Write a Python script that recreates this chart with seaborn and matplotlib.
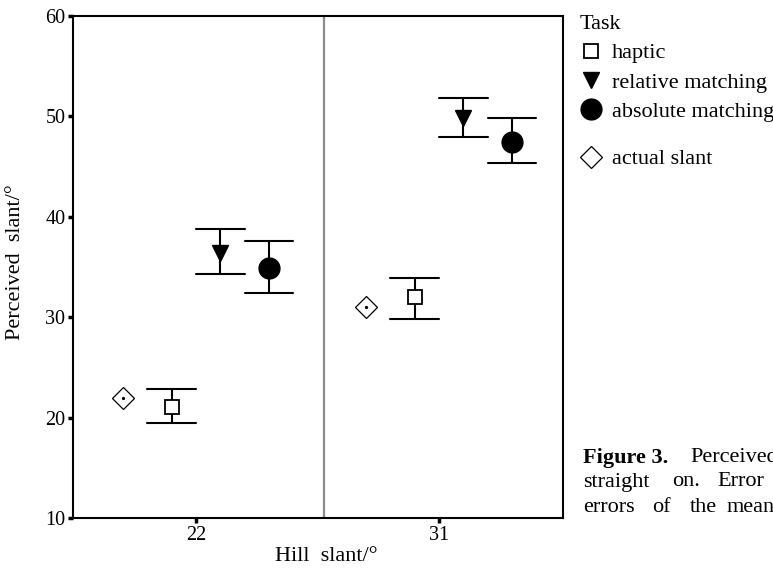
import matplotlib
matplotlib.use("Agg")
import matplotlib.pyplot as plt
import numpy as np
import pandas as pd
import seaborn as sns

# values (degrees)
hill_slants = ["22", "31"]
tasks = ["actual slant", "haptic", "relative matching", "absolute matching"]
means = {
    "actual slant": [22.0, 31.0],
    "haptic": [21.1, 32.0],
    "relative matching": [36.4, 49.8],
    "absolute matching": [34.9, 47.5],
}
err_low = {
    "haptic": [19.5, 29.8],
    "relative matching": [34.3, 47.9],
    "absolute matching": [32.4, 45.4],
}
err_high = {
    "haptic": [22.8, 33.9],
    "relative matching": [38.8, 51.8],
    "absolute matching": [37.6, 49.8],
}

# long table: lower bound, mean, upper bound per cell -> median + full range
rows = []
for task in tasks:
    for i, slant in enumerate(hill_slants):
        vals = [means[task][i]]
        if task in err_low:
            vals = [err_low[task][i], means[task][i], err_high[task][i]]
        for v in vals:
            rows.append({"slant": slant, "task": task, "value": v})
df = pd.DataFrame(rows)

sns.set_theme(style="ticks")
plt.rcParams["font.family"] = ["Liberation Serif", "DejaVu Serif"]
plt.rcParams["text.color"] = "black"
plt.rcParams["axes.labelcolor"] = "black"
plt.rcParams["xtick.color"] = "black"
plt.rcParams["ytick.color"] = "black"

fig = plt.figure(figsize=(7.73, 5.70), dpi=100)
ax = fig.add_axes([73 / 773, 1 - 518 / 570, 490 / 773, 502 / 570])

sns.pointplot(
    data=df, x="slant", y="value", hue="task",
    order=hill_slants, hue_order=tasks,
    estimator="median", errorbar=("pi", 100),
    palette=["black"] * 4, markers=["D", "s", "v", "o"],
    linestyle="none", dodge=0.6, capsize=0.2,
    err_kws={"linewidth": 1.5}, legend=False, ax=ax,
)

marker_lines = [ln for ln in ax.lines if ln.get_marker() not in (None, "None", "")]
styles = {
    "actual slant": dict(ms=11, mfc="white", mew=0.9),
    "haptic": dict(ms=10, mfc="white", mew=1.3),
    "relative matching": dict(ms=12, mfc="black", mew=1.0),
    "absolute matching": dict(ms=15, mfc="black", mew=1.0),
}
handles = {}
for task, ln in zip(tasks, marker_lines):
    st = styles[task]
    ln.set_markersize(st["ms"])
    ln.set_markerfacecolor(st["mfc"])
    ln.set_markeredgecolor("black")
    ln.set_markeredgewidth(st["mew"])
    ln.set_zorder(5)
    handles[task] = ln

# little dot in the centre of the diamonds
dx, dy = handles["actual slant"].get_data()
ax.plot(dx, dy, linestyle="none", marker="o", ms=1.3, color="black", zorder=6)

ax.axvline(0.527, color="#8c8c8c", linewidth=1.6, zorder=1)

ax.set_xlim(-0.506, 1.51)
ax.set_ylim(10, 60)
ax.set_yticks([10, 20, 30, 40, 50, 60])
ax.set_xlabel("Hill  slant/°", fontsize=16)
ax.set_ylabel("Perceived  slant/°", fontsize=16)
ax.xaxis.set_label_coords(0.516, -0.058)
ax.yaxis.set_label_coords(-0.098, 0.51)
ax.tick_params(axis="both", labelsize=14.5, length=3.5, width=2.5, color="black", pad=2)
for sp in ax.spines.values():
    sp.set_visible(True)
    sp.set_color("black")
    sp.set_linewidth(1.5)

# fig.legend keeps every legend it makes, so both stay on the figure
fig.legend(
    handles=[handles["haptic"], handles["relative matching"], handles["absolute matching"]],
    labels=["haptic", "relative matching", "absolute matching"],
    title="Task", loc="upper left", bbox_to_anchor=(571 / 773, 1 - 6 / 570),
    frameon=False, fontsize=16, title_fontsize=16, alignment="left",
    handlelength=1.0, handletextpad=0.45, labelspacing=0.4, borderaxespad=0,
)
fig.legend(
    handles=[handles["actual slant"]], labels=["actual slant"],
    loc="upper left", bbox_to_anchor=(571 / 773, 1 - 140 / 570),
    frameon=False, fontsize=16, handlelength=1.0, handletextpad=0.45, borderaxespad=0,
)

# caption of the page, running past the right edge
caption_words = [
    ("Figure 3.", 583, 458, "bold"), ("Perceived", 690, 458, "normal"),
    ("straight", 583, 482, "normal"), ("on.", 672, 482, "normal"), ("Error", 717, 482, "normal"),
    ("errors", 583, 507, "normal"), ("of", 652, 507, "normal"), ("the", 690, 507, "normal"),
    ("mean", 727, 507, "normal"),
]
for word, px, py, weight in caption_words:
    fig.text(px / 773, 1 - py / 570, word, fontsize=16, fontweight=weight, va="center", ha="left")

fig.savefig("out.png", dpi=100)
